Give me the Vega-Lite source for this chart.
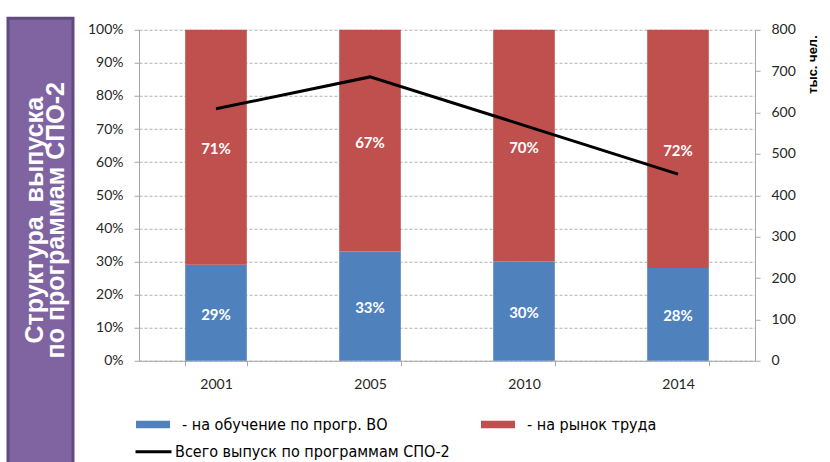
{
  "$schema": "https://vega.github.io/schema/vega-lite/v6.json",
  "padding": {"left": 6, "top": 10, "right": 0, "bottom": 0},
  "background": "white",
  "spacing": 12,
  "center": true,
  "datasets": {
    "share": [
      {"year": "2001", "group": "- на обучение по прогр. ВО", "share": 0.29},
      {"year": "2001", "group": "- на рынок труда", "share": 0.71},
      {"year": "2005", "group": "- на обучение по прогр. ВО", "share": 0.33},
      {"year": "2005", "group": "- на рынок труда", "share": 0.67},
      {"year": "2010", "group": "- на обучение по прогр. ВО", "share": 0.30},
      {"year": "2010", "group": "- на рынок труда", "share": 0.70},
      {"year": "2014", "group": "- на обучение по прогр. ВО", "share": 0.28},
      {"year": "2014", "group": "- на рынок труда", "share": 0.72}
    ],
    "total": [
      {"year": "2001", "series": "Всего выпуск по программам СПО-2", "total": 609},
      {"year": "2005", "series": "Всего выпуск по программам СПО-2", "total": 686},
      {"year": "2010", "series": "Всего выпуск по программам СПО-2", "total": 569},
      {"year": "2014", "series": "Всего выпуск по программам СПО-2", "total": 451}
    ],
    "caption": [
      {"line": "1", "t": "Структура\u00a0 выпуска"},
      {"line": "2", "t": "по программам СПО-2"}
    ]
  },
  "hconcat": [
    {
      "width": 65,
      "height": 452,
      "data": {"name": "caption"},
      "view": {"fill": "#8064A2", "stroke": "#5F4B7E", "strokeWidth": 3},
      "mark": {"type": "text", "angle": 270, "align": "center", "baseline": "middle", "font": "Liberation Sans", "fontWeight": "bold", "fontSize": 25, "color": "white", "dx": 24, "dy": 5},
      "encoding": {
        "x": {"field": "line", "type": "nominal", "scale": {"type": "point", "padding": 1.1}, "axis": null},
        "text": {"field": "t"}
      }
    },
    {
      "width": 616,
      "height": 331,
      "view": {"stroke": null},
      "title": {"text": " ", "fontSize": 8, "offset": 4},
      "layer": [
        {
          "data": {"name": "share"},
          "layer": [
            {
              "mark": {"type": "bar"},
              "encoding": {
                "x": {"field": "year", "type": "nominal", "scale": {"paddingInner": 0.6, "paddingOuter": 0.3},
                  "axis": {"title": null, "labelAngle": 0, "tickBand": "extent", "domainColor": "#A6A6A6", "tickColor": "#A6A6A6", "tickSize": 5, "labelPadding": 12, "labelFont": "Lato", "labelFontSize": 14, "labelColor": "#262626"}},
                "y": {"field": "share", "type": "quantitative", "stack": "zero", "scale": {"domain": [0, 1]},
                  "axis": {"title": null, "format": ".0%", "values": [0, 0.1, 0.2, 0.3, 0.4, 0.5, 0.6, 0.7, 0.8, 0.9, 1], "labelOverlap": false, "grid": true, "gridDash": [3, 2], "gridColor": "#B0B0B0", "domainColor": "#A6A6A6", "tickColor": "#A6A6A6", "tickSize": 5, "labelPadding": 11, "labelFont": "Lato", "labelFontSize": 14, "labelColor": "#262626"}},
                "order": {"field": "group", "sort": "ascending"},
                "color": {"field": "group", "type": "nominal",
                  "scale": {"domain": ["- на обучение по прогр. ВО", "- на рынок труда"], "range": ["#4F81BD", "#C0504D"]},
                  "legend": {"orient": "none", "legendX": 5.5, "legendY": 386, "direction": "horizontal", "columns": 2, "title": null, "symbolType": "M-2,-0.45H2V0.45H-2Z", "symbolSize": 289, "symbolStrokeWidth": 0, "symbolOpacity": 1, "labelFont": "Liberation Sans Narrow, DejaVu Sans Condensed, sans-serif", "labelFontSize": 16, "labelColor": "#000000", "labelOffset": 20.5, "columnPadding": 92, "labelLimit": 400}}
              }
            },
            {
              "mark": {"type": "text", "color": "white", "font": "Lato", "fontWeight": "bold", "fontSize": 15, "dy": 2},
              "encoding": {
                "x": {"field": "year", "type": "nominal"},
                "y": {"field": "share", "type": "quantitative", "stack": "zero", "bandPosition": 0.5, "scale": {"domain": [0, 1]},
                  "axis": {"title": null, "format": ".0%", "values": [0, 0.1, 0.2, 0.3, 0.4, 0.5, 0.6, 0.7, 0.8, 0.9, 1], "labelOverlap": false, "grid": true, "gridDash": [3, 2], "gridColor": "#B0B0B0", "domainColor": "#A6A6A6", "tickColor": "#A6A6A6", "tickSize": 5, "labelPadding": 11, "labelFont": "Lato", "labelFontSize": 14, "labelColor": "#262626"}},
                "order": {"field": "group", "sort": "ascending"},
                "detail": {"field": "group"},
                "text": {"field": "share", "type": "quantitative", "format": ".0%"}
              }
            }
          ]
        },
        {
          "data": {"name": "total"},
          "mark": {"type": "line", "strokeWidth": 3},
          "encoding": {
            "x": {"field": "year", "type": "nominal"},
            "y": {"field": "total", "type": "quantitative", "scale": {"domain": [0, 800]},
              "axis": {"orient": "right", "title": "тыс. чел.", "values": [0, 100, 200, 300, 400, 500, 600, 700, 800], "labelOverlap": false, "grid": false, "domainColor": "#A6A6A6", "tickColor": "#A6A6A6", "tickSize": 5, "labelPadding": 11, "labelFont": "Lato", "labelFontSize": 14, "labelColor": "#262626", "titleFont": "Liberation Sans", "titleFontWeight": "bold", "titleFontSize": 13, "titleColor": "#000000", "titleAngle": 270, "titleAlign": "right", "titleBaseline": "middle", "titleX": 57, "titleY": 5}},
            "stroke": {"field": "series", "type": "nominal", "scale": {"range": ["#000000"]},
              "legend": {"orient": "none", "legendX": 4, "legendY": 411.5, "title": null, "symbolType": "M-2,0H2", "symbolSize": 324, "symbolStrokeWidth": 3, "labelFont": "Liberation Sans Narrow, DejaVu Sans Condensed, sans-serif", "labelFontSize": 16, "labelColor": "#000000", "labelOffset": 11, "labelLimit": 400}}
          }
        }
      ],
      "resolve": {"scale": {"y": "independent"}}
    }
  ],
  "resolve": {"scale": {"color": "independent", "stroke": "independent"}, "legend": {"color": "independent", "stroke": "independent"}}
}
